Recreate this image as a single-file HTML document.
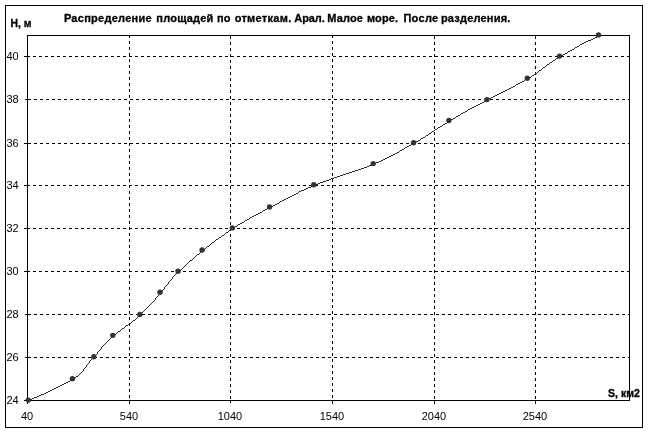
<!DOCTYPE html>
<html lang="ru">
<head>
<meta charset="utf-8">
<title>Распределение площадей по отметкам</title>
<style>
html,body{margin:0;padding:0;background:#fff;}
body{width:649px;height:433px;overflow:hidden;position:relative;font-family:"Liberation Sans",sans-serif;}
svg{position:absolute;left:0;top:0;display:block;}
text{font-family:"Liberation Sans",sans-serif;font-size:11px;fill:#000;}
.b{font-weight:bold;stroke:#000;stroke-width:0.3px;}
</style>
</head>
<body>
<svg width="649" height="433" viewBox="0 0 649 433">
<rect x="0" y="0" width="649" height="433" fill="#fff"/>
<g shape-rendering="crispEdges" fill="none" stroke="#000" stroke-width="1">
<rect x="5.5" y="5.5" width="637" height="422"/>
<rect x="27.5" y="35.5" width="602" height="365"/>
<line x1="27" y1="56.5" x2="629" y2="56.5" stroke-dasharray="3 3"/>
<line x1="28" y1="99.5" x2="629" y2="99.5" stroke-dasharray="3 3"/>
<line x1="28" y1="143.5" x2="629" y2="143.5" stroke-dasharray="3 3"/>
<line x1="27" y1="185.5" x2="629" y2="185.5" stroke-dasharray="3 3"/>
<line x1="27" y1="228.5" x2="629" y2="228.5" stroke-dasharray="3 3"/>
<line x1="27" y1="271.5" x2="629" y2="271.5" stroke-dasharray="3 3"/>
<line x1="28" y1="314.5" x2="629" y2="314.5" stroke-dasharray="3 3"/>
<line x1="28" y1="357.5" x2="629" y2="357.5" stroke-dasharray="3 3"/>
<line x1="129.5" y1="35" x2="129.5" y2="400" stroke-dasharray="3 3"/>
<line x1="230.5" y1="36" x2="230.5" y2="400" stroke-dasharray="3 3"/>
<line x1="332.5" y1="35" x2="332.5" y2="400" stroke-dasharray="3 3"/>
<line x1="434.5" y1="36" x2="434.5" y2="400" stroke-dasharray="3 3"/>
<line x1="535.5" y1="36" x2="535.5" y2="400" stroke-dasharray="3 3"/>
<line x1="24" y1="56.5" x2="27" y2="56.5"/>
<line x1="25" y1="99.5" x2="27" y2="99.5"/>
<line x1="24" y1="143.5" x2="27" y2="143.5"/>
<line x1="24" y1="185.5" x2="27" y2="185.5"/>
<line x1="24" y1="228.5" x2="27" y2="228.5"/>
<line x1="24" y1="271.5" x2="27" y2="271.5"/>
<line x1="25" y1="314.5" x2="27" y2="314.5"/>
<line x1="25" y1="357.5" x2="27" y2="357.5"/>
<line x1="24" y1="400.5" x2="27" y2="400.5"/>
<line x1="27.5" y1="401" x2="27.5" y2="404"/>
<line x1="129.5" y1="401" x2="129.5" y2="404"/>
<line x1="230.5" y1="401" x2="230.5" y2="403"/>
<line x1="332.5" y1="401" x2="332.5" y2="404"/>
<line x1="434.5" y1="401" x2="434.5" y2="404"/>
<line x1="535.5" y1="401" x2="535.5" y2="404"/>
</g>
<path d="M27 400h2v1h-2zM29 399h3v1h-3zM32 398h2v1h-2zM34 397h3v1h-3zM37 396h2v1h-2zM39 395h2v1h-2zM41 394h3v1h-3zM44 393h2v1h-2zM46 392h2v1h-2zM48 391h2v1h-2zM50 390h2v1h-2zM52 389h2v1h-2zM54 388h2v1h-2zM56 387h2v1h-2zM58 386h2v1h-2zM60 385h2v1h-2zM62 384h2v1h-2zM64 383h2v1h-2zM66 382h2v1h-2zM68 381h2v1h-2zM70 380h1v1h-1zM71 379h2v1h-2zM73 378h2v1h-2zM75 377h1v1h-1zM76 376h2v1h-2zM78 375h1v1h-1zM79 374h1v1h-1zM80 373h1v1h-1zM81 372h1v1h-1zM82 371h1v1h-1zM83 369h1v2h-1zM84 368h1v1h-1zM85 367h1v1h-1zM86 365h1v2h-1zM87 364h1v1h-1zM88 363h1v1h-1zM89 361h1v2h-1zM90 360h1v1h-1zM91 359h1v1h-1zM92 358h2v1h-2zM94 356h1v2h-1zM95 355h1v1h-1zM96 354h1v1h-1zM97 352h1v2h-1zM98 351h1v1h-1zM99 350h1v1h-1zM100 349h1v1h-1zM101 347h1v2h-1zM102 346h1v1h-1zM103 345h1v1h-1zM104 344h1v1h-1zM105 343h1v1h-1zM106 342h1v1h-1zM107 341h1v1h-1zM108 340h1v1h-1zM109 339h1v1h-1zM110 338h1v1h-1zM111 337h1v1h-1zM112 336h1v1h-1zM113 335h2v1h-2zM115 334h1v1h-1zM116 333h1v1h-1zM117 332h1v1h-1zM118 331h2v1h-2zM120 330h1v1h-1zM121 329h1v1h-1zM122 328h2v1h-2zM124 327h1v1h-1zM125 326h1v1h-1zM126 325h2v1h-2zM128 324h1v1h-1zM129 323h2v1h-2zM131 322h1v1h-1zM132 321h1v1h-1zM133 320h2v1h-2zM135 319h1v1h-1zM136 318h1v1h-1zM137 317h1v1h-1zM138 316h1v1h-1zM139 315h1v1h-1zM140 314h1v1h-1zM141 313h1v1h-1zM142 312h1v1h-1zM143 311h1v1h-1zM144 310h1v1h-1zM145 309h1v1h-1zM146 308h1v1h-1zM147 307h1v1h-1zM148 306h1v1h-1zM149 305h1v1h-1zM150 304h1v1h-1zM151 303h1v1h-1zM152 302h1v1h-1zM153 301h1v1h-1zM154 300h1v1h-1zM155 298h1v2h-1zM156 297h1v1h-1zM157 296h1v1h-1zM158 295h1v1h-1zM159 294h1v1h-1zM160 292h1v2h-1zM161 291h1v1h-1zM162 290h1v1h-1zM163 289h1v1h-1zM164 287h1v2h-1zM165 286h1v1h-1zM166 285h1v1h-1zM167 284h1v1h-1zM168 282h1v2h-1zM169 281h1v1h-1zM170 280h1v1h-1zM171 279h1v1h-1zM172 277h1v2h-1zM173 276h1v1h-1zM174 275h1v1h-1zM175 274h1v1h-1zM176 273h1v1h-1zM177 272h1v1h-1zM178 271h2v1h-2zM180 270h1v1h-1zM181 269h1v1h-1zM182 268h1v1h-1zM183 267h1v1h-1zM184 266h1v1h-1zM185 265h1v1h-1zM186 264h1v1h-1zM187 263h1v1h-1zM188 262h1v1h-1zM189 261h1v1h-1zM190 260h2v1h-2zM192 259h1v1h-1zM193 258h1v1h-1zM194 257h1v1h-1zM195 256h1v1h-1zM196 255h1v1h-1zM197 254h2v1h-2zM199 253h1v1h-1zM200 252h1v1h-1zM201 251h1v1h-1zM202 250h1v1h-1zM203 249h2v1h-2zM205 248h1v1h-1zM206 247h1v1h-1zM207 246h2v1h-2zM209 245h1v1h-1zM210 244h1v1h-1zM211 243h1v1h-1zM212 242h2v1h-2zM214 241h1v1h-1zM215 240h1v1h-1zM216 239h2v1h-2zM218 238h1v1h-1zM219 237h2v1h-2zM221 236h1v1h-1zM222 235h2v1h-2zM224 234h1v1h-1zM225 233h1v1h-1zM226 232h2v1h-2zM228 231h1v1h-1zM229 230h2v1h-2zM231 229h1v1h-1zM232 228h2v1h-2zM234 227h1v1h-1zM235 226h2v1h-2zM237 225h1v1h-1zM238 224h2v1h-2zM240 223h2v1h-2zM242 222h2v1h-2zM244 221h1v1h-1zM245 220h2v1h-2zM247 219h2v1h-2zM249 218h1v1h-1zM250 217h2v1h-2zM252 216h2v1h-2zM254 215h2v1h-2zM256 214h2v1h-2zM258 213h2v1h-2zM260 212h2v1h-2zM262 211h1v1h-1zM263 210h2v1h-2zM265 209h2v1h-2zM267 208h2v1h-2zM269 207h2v1h-2zM271 206h2v1h-2zM273 205h2v1h-2zM275 204h2v1h-2zM277 203h2v1h-2zM279 202h1v1h-1zM280 201h2v1h-2zM282 200h2v1h-2zM284 199h2v1h-2zM286 198h2v1h-2zM288 197h2v1h-2zM290 196h2v1h-2zM292 195h2v1h-2zM294 194h2v1h-2zM296 193h2v1h-2zM298 192h1v1h-1zM299 191h2v1h-2zM301 190h3v1h-3zM304 189h2v1h-2zM306 188h2v1h-2zM308 187h3v1h-3zM311 186h2v1h-2zM313 185h2v1h-2zM315 184h3v1h-3zM318 183h2v1h-2zM320 182h3v1h-3zM323 181h3v1h-3zM326 180h3v1h-3zM329 179h2v1h-2zM331 178h3v1h-3zM334 177h3v1h-3zM337 176h3v1h-3zM340 175h3v1h-3zM343 174h3v1h-3zM346 173h3v1h-3zM349 172h3v1h-3zM352 171h3v1h-3zM355 170h3v1h-3zM358 169h3v1h-3zM361 168h3v1h-3zM364 167h3v1h-3zM367 166h2v1h-2zM369 165h3v1h-3zM372 164h2v1h-2zM374 163h2v1h-2zM376 162h3v1h-3zM379 161h2v1h-2zM381 160h2v1h-2zM383 159h2v1h-2zM385 158h2v1h-2zM387 157h2v1h-2zM389 156h2v1h-2zM391 155h2v1h-2zM393 154h2v1h-2zM395 153h2v1h-2zM397 152h2v1h-2zM399 151h1v1h-1zM400 150h2v1h-2zM402 149h2v1h-2zM404 148h1v1h-1zM405 147h2v1h-2zM407 146h2v1h-2zM409 145h2v1h-2zM411 144h1v1h-1zM412 143h2v1h-2zM414 142h2v1h-2zM416 141h2v1h-2zM418 140h2v1h-2zM420 139h1v1h-1zM421 138h2v1h-2zM423 137h2v1h-2zM425 136h1v1h-1zM426 135h2v1h-2zM428 134h1v1h-1zM429 133h2v1h-2zM431 132h1v1h-1zM432 131h2v1h-2zM434 130h1v1h-1zM435 129h2v1h-2zM437 128h1v1h-1zM438 127h2v1h-2zM440 126h2v1h-2zM442 125h1v1h-1zM443 124h2v1h-2zM445 123h2v1h-2zM447 122h1v1h-1zM448 121h2v1h-2zM450 120h1v1h-1zM451 119h2v1h-2zM453 118h2v1h-2zM455 117h1v1h-1zM456 116h2v1h-2zM458 115h2v1h-2zM460 114h1v1h-1zM461 113h2v1h-2zM463 112h2v1h-2zM465 111h2v1h-2zM467 110h1v1h-1zM468 109h2v1h-2zM470 108h2v1h-2zM472 107h2v1h-2zM474 106h2v1h-2zM476 105h2v1h-2zM478 104h2v1h-2zM480 103h2v1h-2zM482 102h2v1h-2zM484 101h2v1h-2zM486 100h1v1h-1zM487 99h2v1h-2zM489 98h2v1h-2zM491 97h2v1h-2zM493 96h2v1h-2zM495 95h2v1h-2zM497 94h2v1h-2zM499 93h2v1h-2zM501 92h2v1h-2zM503 91h2v1h-2zM505 90h2v1h-2zM507 89h2v1h-2zM509 88h2v1h-2zM511 87h2v1h-2zM513 86h2v1h-2zM515 85h1v1h-1zM516 84h2v1h-2zM518 83h2v1h-2zM520 82h2v1h-2zM522 81h2v1h-2zM524 80h1v1h-1zM525 79h2v1h-2zM527 78h2v1h-2zM529 77h2v1h-2zM531 76h1v1h-1zM532 75h2v1h-2zM534 74h1v1h-1zM535 73h2v1h-2zM537 72h1v1h-1zM538 71h1v1h-1zM539 70h2v1h-2zM541 69h1v1h-1zM542 68h1v1h-1zM543 67h2v1h-2zM545 66h1v1h-1zM546 65h1v1h-1zM547 64h2v1h-2zM549 63h1v1h-1zM550 62h2v1h-2zM552 61h1v1h-1zM553 60h2v1h-2zM555 59h1v1h-1zM556 58h2v1h-2zM558 57h2v1h-2zM560 56h2v1h-2zM562 55h1v1h-1zM563 54h2v1h-2zM565 53h2v1h-2zM567 52h1v1h-1zM568 51h2v1h-2zM570 50h2v1h-2zM572 49h2v1h-2zM574 48h1v1h-1zM575 47h2v1h-2zM577 46h2v1h-2zM579 45h1v1h-1zM580 44h2v1h-2zM582 43h2v1h-2zM584 42h2v1h-2zM586 41h2v1h-2zM588 40h3v1h-3zM591 39h2v1h-2zM593 38h2v1h-2zM595 37h2v1h-2zM597 36h2v1h-2zM599 35h2v1h-2z" fill="#2b2b2b" stroke="none" shape-rendering="crispEdges"/>
<g fill="#333">
<circle cx="28.30" cy="400.10" r="2.7"/>
<circle cx="72.42" cy="378.63" r="2.7"/>
<circle cx="93.77" cy="356.81" r="2.7"/>
<circle cx="112.81" cy="335.36" r="2.7"/>
<circle cx="139.88" cy="314.39" r="2.7"/>
<circle cx="160.03" cy="292.30" r="2.7"/>
<circle cx="178.03" cy="271.13" r="2.7"/>
<circle cx="202.06" cy="250.05" r="2.7"/>
<circle cx="232.30" cy="227.90" r="2.7"/>
<circle cx="269.55" cy="206.90" r="2.7"/>
<circle cx="313.76" cy="184.78" r="2.7"/>
<circle cx="373.20" cy="163.60" r="2.7"/>
<circle cx="413.60" cy="142.80" r="2.7"/>
<circle cx="448.90" cy="120.50" r="2.7"/>
<circle cx="486.95" cy="99.60" r="2.7"/>
<circle cx="527.27" cy="78.20" r="2.7"/>
<circle cx="559.56" cy="56.08" r="2.7"/>
<circle cx="598.48" cy="34.90" r="2.7"/>
</g>
<text class="b" x="10.5" y="27" textLength="21" lengthAdjust="spacingAndGlyphs">H, м</text>
<text class="b" y="22"><tspan x="63.9" style="letter-spacing:0.27px">Распределение</tspan> <tspan x="156.3" style="letter-spacing:0.21px">площадей</tspan> <tspan x="216.9" style="letter-spacing:0.30px">по</tspan> <tspan x="234.7" style="letter-spacing:0.30px">отметкам.</tspan> <tspan x="294.3" style="letter-spacing:-0.10px">Арал.</tspan> <tspan x="327.3" style="letter-spacing:0.15px">Малое</tspan> <tspan x="367.0" style="letter-spacing:0.12px">море.</tspan> <tspan x="403.4" style="letter-spacing:0.30px">После</tspan> <tspan x="440.9" style="letter-spacing:0.21px">разделения.</tspan></text>
<text class="b" x="608" y="397" textLength="32" lengthAdjust="spacingAndGlyphs">S, км2</text>
<text x="6.4" y="60">40</text>
<text x="6.4" y="103">38</text>
<text x="6.4" y="147">36</text>
<text x="6.4" y="189">34</text>
<text x="6.4" y="232">32</text>
<text x="6.4" y="275">30</text>
<text x="6.4" y="318">28</text>
<text x="6.4" y="361">26</text>
<text x="6.4" y="404">24</text>
<text x="27.0" y="420" text-anchor="middle">40</text>
<text x="129.0" y="420" text-anchor="middle">540</text>
<text x="230.0" y="420" text-anchor="middle">1040</text>
<text x="332.0" y="420" text-anchor="middle">1540</text>
<text x="434.0" y="420" text-anchor="middle">2040</text>
<text x="535.0" y="420" text-anchor="middle">2540</text>
</svg>
</body>
</html>
